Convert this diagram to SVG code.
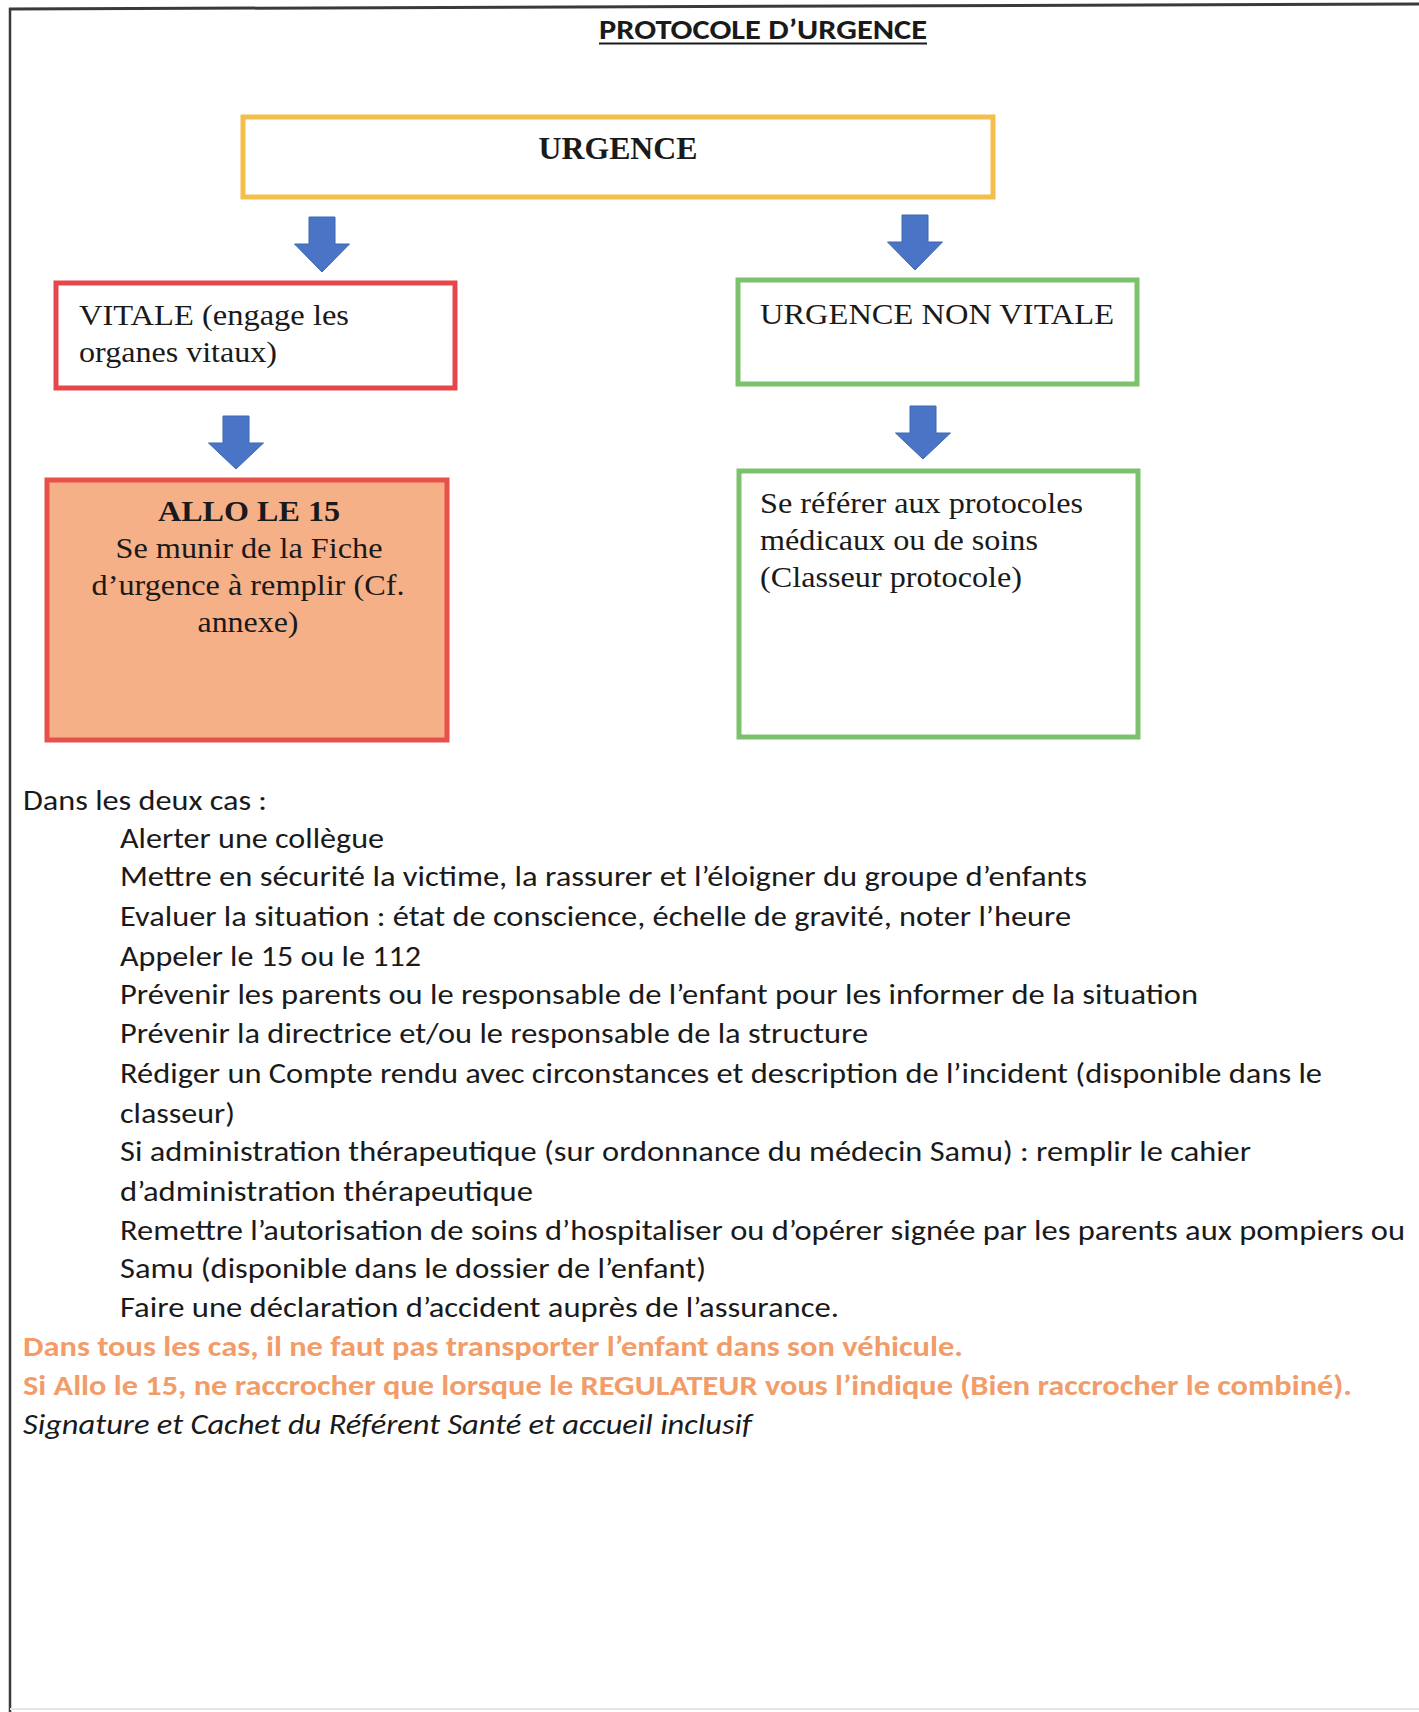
<svg xmlns="http://www.w3.org/2000/svg" width="1419" height="1712" viewBox="0 0 1419 1712">
<style>
.serif{font-family:"Liberation Serif","Times New Roman",serif;fill:#1a1a1a}
.sans{font-family:Carlito,Lato,"Liberation Sans",sans-serif;fill:#1a1a1a;font-size:28px}
.orange{font-family:Carlito,Lato,"Liberation Sans",sans-serif;fill:#F29D69;font-size:28px;font-weight:bold}
.arrow{fill:#4A74C6;stroke:#3F66B3;stroke-width:1}
.box{fill:#ffffff;stroke-width:5}
</style>
<rect x="0" y="0" width="1419" height="1712" fill="#ffffff"/>
<g id="frame">
<line x1="9" y1="9" x2="1419" y2="4" stroke="#3a3a3a" stroke-width="3"/>
<line x1="10" y1="8" x2="10" y2="1712" stroke="#3a3a3a" stroke-width="2.5"/>
<line x1="10" y1="1709" x2="1419" y2="1709" stroke="#e6e6e6" stroke-width="2"/>
</g>
<g id="title">
<text x="763" y="39" text-anchor="middle" class="sans" style="font-weight:bold;font-size:28px" textLength="328" lengthAdjust="spacingAndGlyphs">PROTOCOLE D’URGENCE</text>
<line x1="599" y1="43.5" x2="927" y2="43.5" stroke="#1a1a1a" stroke-width="2"/>
</g>
<g id="node-urgence">
<rect x="243" y="117" width="750" height="80" class="box" stroke="#F4BE4C"/>
<text x="618" y="159" text-anchor="middle" class="serif" font-weight="bold" font-size="32" textLength="159" lengthAdjust="spacingAndGlyphs">URGENCE</text>
</g>
<g id="node-vitale">
<rect x="56" y="283" width="399" height="105" class="box" stroke="#E5484B"/>
<text x="79" y="325" class="serif" font-size="30" textLength="270" lengthAdjust="spacingAndGlyphs">VITALE (engage les</text>
<text x="79" y="362" class="serif" font-size="30" textLength="198" lengthAdjust="spacingAndGlyphs">organes vitaux)</text>
</g>
<g id="node-non-vitale">
<rect x="738" y="280" width="399" height="104" class="box" stroke="#7CC26C"/>
<text x="760" y="324" class="serif" font-size="30" textLength="354" lengthAdjust="spacingAndGlyphs">URGENCE NON VITALE</text>
</g>
<g id="node-allo">
<rect x="47" y="480" width="400" height="260" fill="#F6B088" stroke="#E8504A" stroke-width="5"/>
<text x="249" y="521" text-anchor="middle" class="serif" font-weight="bold" font-size="30" textLength="182" lengthAdjust="spacingAndGlyphs">ALLO LE 15</text>
<text x="249" y="558" text-anchor="middle" class="serif" font-size="30" textLength="267" lengthAdjust="spacingAndGlyphs">Se munir de la Fiche</text>
<text x="248" y="595" text-anchor="middle" class="serif" font-size="30" textLength="313" lengthAdjust="spacingAndGlyphs">d’urgence à remplir (Cf.</text>
<text x="248" y="632" text-anchor="middle" class="serif" font-size="30" textLength="101" lengthAdjust="spacingAndGlyphs">annexe)</text>
</g>
<g id="node-protocoles">
<rect x="739" y="471" width="399" height="266" class="box" stroke="#7CC26C"/>
<text x="760" y="513" class="serif" font-size="30" textLength="323" lengthAdjust="spacingAndGlyphs">Se référer aux protocoles</text>
<text x="760" y="550" class="serif" font-size="30" textLength="278" lengthAdjust="spacingAndGlyphs">médicaux ou de soins</text>
<text x="760" y="587" class="serif" font-size="30" textLength="262" lengthAdjust="spacingAndGlyphs">(Classeur protocole)</text>
</g>
<g id="connectors">
<path class="arrow" d="M309,217 H335 V244 H349.5 L322,272 L294.5,244 H309 Z"/>
<path class="arrow" d="M902,215 H928 V242 H942.5 L915,270 L887.5,242 H902 Z"/>
<path class="arrow" d="M223,416 H249 V443 H263.5 L236,469 L208.5,443 H223 Z"/>
<path class="arrow" d="M910,406 H936 V433 H950.5 L923,459 L895.5,433 H910 Z"/>
</g>
<g id="instructions">
<text x="23" y="810" class="sans" textLength="244" lengthAdjust="spacingAndGlyphs">Dans les deux cas :</text>
<text x="120" y="848" class="sans" textLength="264" lengthAdjust="spacingAndGlyphs">Alerter une collègue</text>
<text x="120" y="886" class="sans" textLength="967" lengthAdjust="spacingAndGlyphs">Mettre en sécurité la victime, la rassurer et l’éloigner du groupe d’enfants</text>
<text x="120" y="926" class="sans" textLength="951" lengthAdjust="spacingAndGlyphs">Evaluer la situation : état de conscience, échelle de gravité, noter l’heure</text>
<text x="120" y="966" class="sans" textLength="301" lengthAdjust="spacingAndGlyphs">Appeler le 15 ou le 112</text>
<text x="120" y="1004" class="sans" textLength="1078" lengthAdjust="spacingAndGlyphs">Prévenir les parents ou le responsable de l’enfant pour les informer de la situation</text>
<text x="120" y="1043" class="sans" textLength="748" lengthAdjust="spacingAndGlyphs">Prévenir la directrice et/ou le responsable de la structure</text>
<text x="120" y="1083" class="sans" textLength="1202" lengthAdjust="spacingAndGlyphs">Rédiger un Compte rendu avec circonstances et description de l’incident (disponible dans le</text>
<text x="120" y="1123" class="sans" textLength="115" lengthAdjust="spacingAndGlyphs">classeur)</text>
<text x="120" y="1161" class="sans" textLength="1131" lengthAdjust="spacingAndGlyphs">Si administration thérapeutique (sur ordonnance du médecin Samu) : remplir le cahier</text>
<text x="120" y="1201" class="sans" textLength="413" lengthAdjust="spacingAndGlyphs">d’administration thérapeutique</text>
<text x="120" y="1240" class="sans" textLength="1285" lengthAdjust="spacingAndGlyphs">Remettre l’autorisation de soins d’hospitaliser ou d’opérer signée par les parents aux pompiers ou</text>
<text x="120" y="1278" class="sans" textLength="586" lengthAdjust="spacingAndGlyphs">Samu (disponible dans le dossier de l’enfant)</text>
<text x="120" y="1317" class="sans" textLength="719" lengthAdjust="spacingAndGlyphs">Faire une déclaration d’accident auprès de l’assurance.</text>
<text x="23" y="1356" class="orange" textLength="940" lengthAdjust="spacingAndGlyphs">Dans tous les cas, il ne faut pas transporter l’enfant dans son véhicule.</text>
<text x="23" y="1395" class="orange" textLength="1329" lengthAdjust="spacingAndGlyphs">Si Allo le 15, ne raccrocher que lorsque le REGULATEUR vous l’indique (Bien raccrocher le combiné).</text>
<text x="23" y="1434" class="sans" font-style="italic" textLength="729" lengthAdjust="spacingAndGlyphs">Signature et Cachet du Référent Santé et accueil inclusif</text>
</g>
</svg>
